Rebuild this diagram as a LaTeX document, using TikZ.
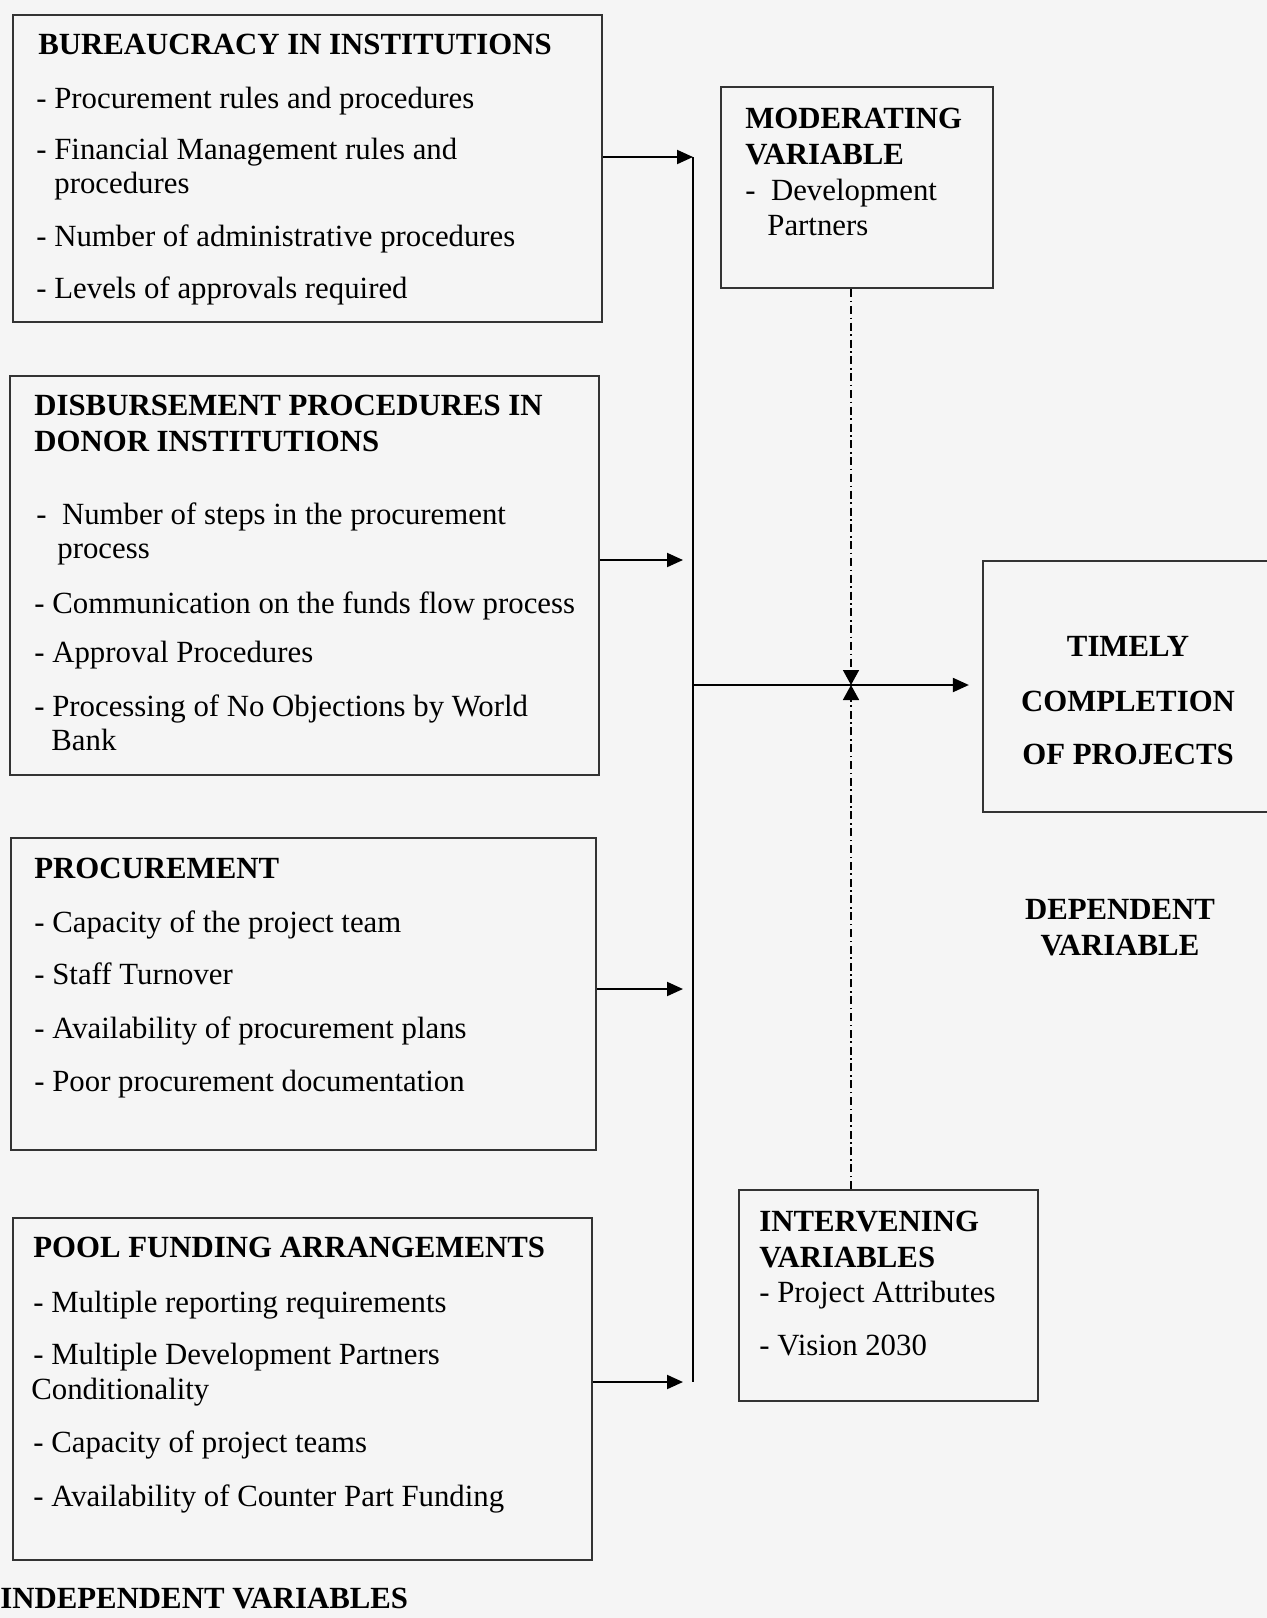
\documentclass[tikz,border=0pt]{standalone}
\usepackage{fontspec}
\setmainfont{Liberation Serif}
\usetikzlibrary{positioning,fit,arrows.meta}

\begin{document}
\begin{tikzpicture}[
    x=0.5pt, y=-0.5pt,
    varbox/.style={draw=black!80, line width=1.1pt, inner sep=0pt},
    txt/.style={anchor=mid west, inner sep=0pt, yshift=-3.3pt, font=\fontsize{15.4}{18}\selectfont},
    head/.style={txt, font=\bfseries\fontsize{15.4}{18}\selectfont},
    headc/.style={head, anchor=mid},
    link/.style={draw, line width=1pt, -{Triangle[length=8pt,width=7pt]}},
    bus/.style={draw, line width=1pt},
    modlink/.style={draw, line width=0.8pt, dash pattern=on 4pt off 1.8pt on 0.8pt off 1.8pt,
        -{Triangle[length=7.5pt,width=8pt]}}
]

% Page
\useasboundingbox[fill=black!4] (0,0) rectangle (1267,1618);

% Independent variable boxes
\node[varbox, fit={(13,15) (602,322)}] (bureau) {};
\node[varbox, fit={(10,376) (599,775)}] (disburse) {};
\node[varbox, fit={(11,838) (596,1150)}] (procure) {};
\node[varbox, fit={(13,1218) (592,1560)}] (pool) {};

% Moderating, intervening and dependent boxes
\node[varbox, fit={(721,87) (993,288)}] (moder) {};
\node[varbox, fit={(739,1190) (1038,1401)}] (interv) {};
\node[varbox, fit={(983,561) (1275,812)}] (timely) {};

% Box texts
\node[head] (bureau-0) at (38,43) {BUREAUCRACY IN INSTITUTIONS};
\foreach \y/\x/\t [count=\i] in {97/36/{- Procurement rules and procedures},
    148/36/{- Financial Management rules and}, 182/54/{procedures},
    235/36/{- Number of administrative procedures}, 287/36/{- Levels of approvals required}}
  \node[txt] (bureau-\i) at (\x,\y) {\t};

\node[head] (disburse-0) at (34,404) {DISBURSEMENT PROCEDURES IN};
\node[head] (disburse-00) at (34,440) {DONOR INSTITUTIONS};
\foreach \y/\x/\t [count=\i] in {513/36/{-\ \ Number of steps in the procurement},
    547/57/{process}, 602/34/{- Communication on the funds flow process},
    651/34/{- Approval Procedures}, 705/34/{- Processing of No Objections by World},
    739/51/{Bank}}
  \node[txt] (disburse-\i) at (\x,\y) {\t};

\node[head] (procure-0) at (34,867) {PROCUREMENT};
\foreach \y/\t [count=\i] in {921/{- Capacity of the project team}, 973/{- Staff Turnover},
    1027/{- Availability of procurement plans}, 1080/{- Poor procurement documentation}}
  \node[txt] (procure-\i) at (34,\y) {\t};

\node[head] (pool-0) at (33,1246) {POOL FUNDING ARRANGEMENTS};
\foreach \y/\x/\t [count=\i] in {1301/33/{- Multiple reporting requirements},
    1353/33/{- Multiple Development Partners}, 1388/31/{Conditionality},
    1441/33/{- Capacity of project teams}, 1495/33/{- Availability of Counter Part Funding}}
  \node[txt] (pool-\i) at (\x,\y) {\t};

\node[head] (moder-0) at (745,117) {MODERATING};
\node[head] (moder-00) at (745,153) {VARIABLE};
\node[txt] (moder-1) at (745,189) {-\ \ Development};
\node[txt] (moder-2) at (767,224) {Partners};

\node[head] (interv-0) at (759,1220) {INTERVENING};
\node[head] (interv-00) at (759,1256) {VARIABLES};
\node[txt] (interv-1) at (759,1291) {- Project Attributes};
\node[txt] (interv-2) at (759,1344) {- Vision 2030};

\node[headc] (timely-1) at (1128,645) {TIMELY};
\node[headc] (timely-2) at (1128,700) {COMPLETION};
\node[headc] (timely-3) at (1128,753) {OF PROJECTS};

% Captions
\node[headc] (dep-1) at (1120,908) {DEPENDENT};
\node[headc] (dep-2) at (1120,944) {VARIABLE};
\node[head] (indep) at (0,1597) {INDEPENDENT VARIABLES};

% Collector line
\coordinate (busTop) at (693,157);
\coordinate (busBot) at (693,1382);
\coordinate (busMid) at (693,685);
\coordinate (cross) at (851,685);
\draw[bus] (busTop) -- (busBot);

% Arrows into the collector
\draw[link] (bureau.east |- busTop) -- (busTop);
\draw[link, shorten >=5pt] (disburse.east |- 0,560) -- (busTop |- 0,560);
\draw[link, shorten >=5pt] (procure.east |- 0,989) -- (busTop |- 0,989);
\draw[link, shorten >=5pt] (pool.east |- busBot) -- (busBot);

% Main arrow and moderating / intervening links
\draw[link, shorten >=6.5pt] (busMid) -- (timely.west |- busMid);
\draw[modlink] (moder.south -| cross) -- (cross);
\draw[modlink] (interv.north -| cross) -- (cross);

\end{tikzpicture}
\end{document}
